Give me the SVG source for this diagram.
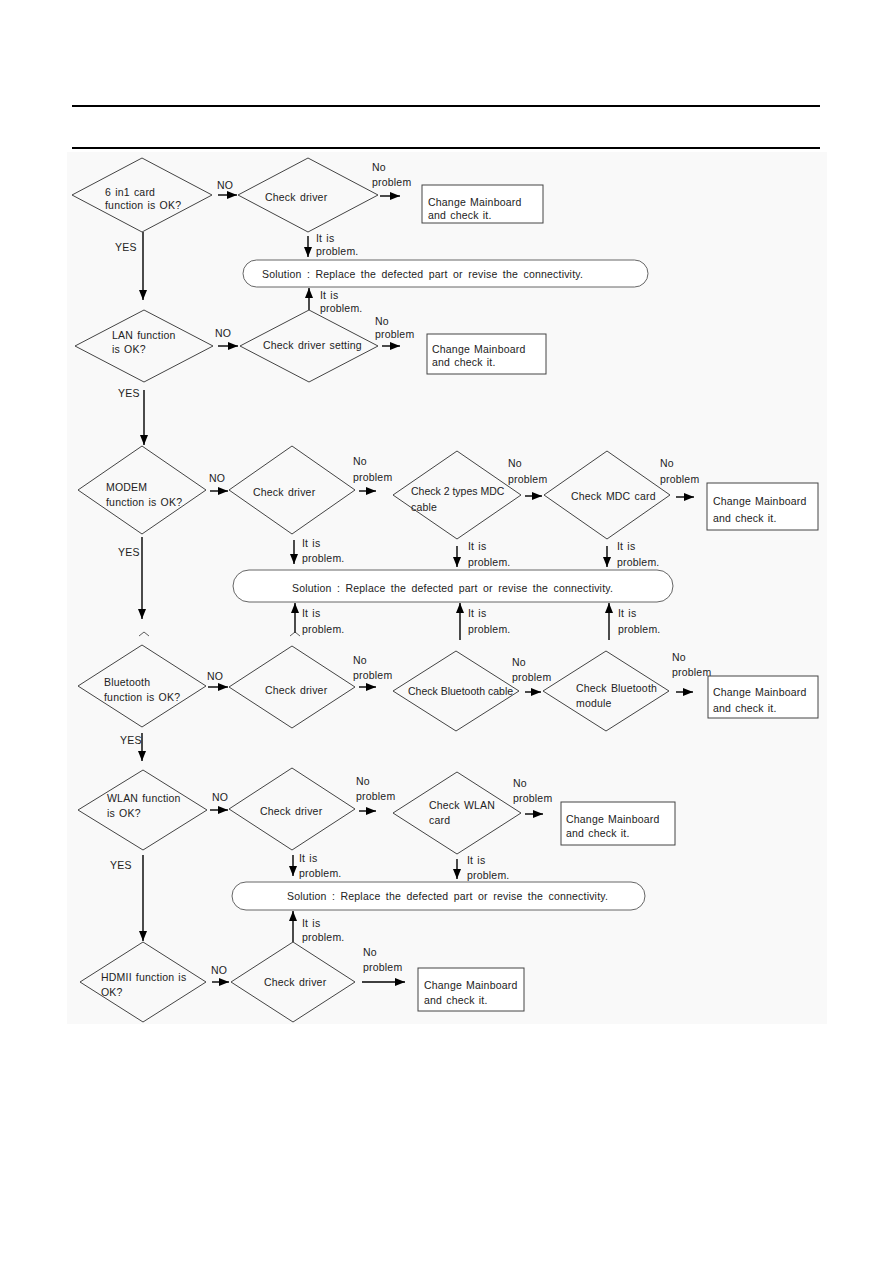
<svg xmlns="http://www.w3.org/2000/svg" width="893" height="1263" viewBox="0 0 893 1263">
<style>
text{font-family:"Liberation Sans",Arial,sans-serif;font-size:10.5px;fill:#222;letter-spacing:0.2px;word-spacing:1px}
.sol{word-spacing:2.3px}
.tight{word-spacing:0;letter-spacing:0}
.d{fill:none;stroke:#444;stroke-width:1}
.b{fill:#fff;stroke:#444;stroke-width:1}
.s{fill:#fff;stroke:#555;stroke-width:0.9}
.c{fill:none;stroke:#000;stroke-width:1.4}
.h{stroke:#000;stroke-width:2}
.k{fill:none;stroke:#333;stroke-width:0.8}
</style>
<defs>
<marker id="ah" markerUnits="userSpaceOnUse" markerWidth="10" markerHeight="8" refX="10" refY="4" orient="auto">
<path d="M0,0 L10,4 L0,8 z" fill="#000"/>
</marker>
</defs>
<rect x="0" y="0" width="893" height="1263" fill="#fff"/>
<rect x="67" y="152" width="760" height="872" fill="#f9f9f9"/>
<g id="header">
<line class="h" x1="72" y1="106" x2="820" y2="106"/>
<line class="h" x1="72" y1="148" x2="820" y2="148"/>
</g>
<g id="connectors">
<line class="c" x1="143" y1="232" x2="143" y2="300" marker-end="url(#ah)"/>
<line class="c" x1="218" y1="195" x2="237" y2="195" marker-end="url(#ah)"/>
<line class="c" x1="380" y1="196" x2="400" y2="196" marker-end="url(#ah)"/>
<line class="c" x1="308" y1="236" x2="308" y2="257" marker-end="url(#ah)"/>
<line class="c" x1="309" y1="310" x2="309" y2="288" marker-end="url(#ah)"/>
<line class="c" x1="218" y1="346" x2="238" y2="346" marker-end="url(#ah)"/>
<line class="c" x1="382" y1="346" x2="400" y2="346" marker-end="url(#ah)"/>
<line class="c" x1="144" y1="390" x2="144" y2="445" marker-end="url(#ah)"/>
<line class="c" x1="210" y1="491" x2="228" y2="491" marker-end="url(#ah)"/>
<line class="c" x1="359" y1="491" x2="376" y2="491" marker-end="url(#ah)"/>
<line class="c" x1="525" y1="496" x2="542" y2="496" marker-end="url(#ah)"/>
<line class="c" x1="676" y1="497" x2="694" y2="497" marker-end="url(#ah)"/>
<line class="c" x1="294" y1="540" x2="294" y2="564" marker-end="url(#ah)"/>
<line class="c" x1="457" y1="546" x2="457" y2="567" marker-end="url(#ah)"/>
<line class="c" x1="607" y1="546" x2="607" y2="567" marker-end="url(#ah)"/>
<line class="c" x1="295" y1="633" x2="295" y2="603" marker-end="url(#ah)"/>
<line class="c" x1="460" y1="640" x2="460" y2="603" marker-end="url(#ah)"/>
<line class="c" x1="609" y1="640" x2="609" y2="603" marker-end="url(#ah)"/>
<line class="c" x1="142" y1="537" x2="142" y2="619" marker-end="url(#ah)"/>
<polyline class="k" points="139,636 144,632 149,636"/>
<polyline class="k" points="290,636 295,632 300,636"/>
<line class="c" x1="208" y1="687" x2="228" y2="687" marker-end="url(#ah)"/>
<line class="c" x1="359" y1="687" x2="376" y2="687" marker-end="url(#ah)"/>
<line class="c" x1="525" y1="692" x2="541" y2="692" marker-end="url(#ah)"/>
<line class="c" x1="676" y1="692" x2="693" y2="692" marker-end="url(#ah)"/>
<line class="c" x1="142" y1="733" x2="142" y2="761" marker-end="url(#ah)"/>
<line class="c" x1="210" y1="810" x2="228" y2="810" marker-end="url(#ah)"/>
<line class="c" x1="359" y1="811" x2="376" y2="811" marker-end="url(#ah)"/>
<line class="c" x1="525" y1="814" x2="543" y2="814" marker-end="url(#ah)"/>
<line class="c" x1="293" y1="855" x2="293" y2="876" marker-end="url(#ah)"/>
<line class="c" x1="457" y1="859" x2="457" y2="879" marker-end="url(#ah)"/>
<line class="c" x1="293" y1="942" x2="293" y2="911" marker-end="url(#ah)"/>
<line class="c" x1="143" y1="855" x2="143" y2="941" marker-end="url(#ah)"/>
<line class="c" x1="212" y1="982" x2="229" y2="982" marker-end="url(#ah)"/>
<line class="c" x1="362" y1="982" x2="405" y2="982" marker-end="url(#ah)"/>
</g>
<g id="connector-labels">
<text x="217" y="189">NO</text>
<text x="115" y="251">YES</text>
<text x="372" y="171">No</text><text x="372" y="186">problem</text>
<text x="316" y="242">It is</text><text x="316" y="255">problem.</text>
<text x="320" y="299">It is</text><text x="320" y="312">problem.</text>
<text x="215" y="337">NO</text>
<text x="375" y="325">No</text><text x="375" y="338">problem</text>
<text x="118" y="397">YES</text>
<text x="209" y="482">NO</text>
<text x="353" y="465">No</text><text x="353" y="481">problem</text>
<text x="508" y="467">No</text><text x="508" y="483">problem</text>
<text x="660" y="467">No</text><text x="660" y="483">problem</text>
<text x="118" y="556">YES</text>
<text x="302" y="547">It is</text><text x="302" y="562">problem.</text>
<text x="468" y="550">It is</text><text x="468" y="566">problem.</text>
<text x="617" y="550">It is</text><text x="617" y="566">problem.</text>
<text x="302" y="617">It is</text><text x="302" y="633">problem.</text>
<text x="468" y="617">It is</text><text x="468" y="633">problem.</text>
<text x="618" y="617">It is</text><text x="618" y="633">problem.</text>
<text x="207" y="680">NO</text>
<text x="353" y="664">No</text><text x="353" y="679">problem</text>
<text x="512" y="666">No</text><text x="512" y="681">problem</text>
<text x="672" y="661">No</text><text x="672" y="676">problem</text>
<text x="120" y="744">YES</text>
<text x="212" y="801">NO</text>
<text x="356" y="785">No</text><text x="356" y="800">problem</text>
<text x="513" y="787">No</text><text x="513" y="802">problem</text>
<text x="299" y="862">It is</text><text x="299" y="877">problem.</text>
<text x="467" y="864">It is</text><text x="467" y="879">problem.</text>
<text x="110" y="869">YES</text>
<text x="302" y="927">It is</text><text x="302" y="941">problem.</text>
<text x="211" y="974">NO</text>
<text x="363" y="956">No</text><text x="363" y="971">problem</text>
</g>
<g id="q-6in1"><polygon class="d" points="72,195 142,158 212,195 142,232"/><text x="105" y="196">6 in1 card</text><text x="105" y="209">function is OK?</text></g>
<g id="check-driver-1"><polygon class="d" points="238,195 308,158 378,195 308,232"/><text x="265" y="201">Check driver</text></g>
<g id="mainboard-1"><rect class="b" x="422" y="185" width="121" height="38"/><text x="428" y="206">Change Mainboard</text><text x="428" y="219">and check it.</text></g>
<g id="solution-1"><rect class="s" x="243" y="260" width="405" height="27" rx="13.5"/><text class="sol" x="262" y="278">Solution : Replace the defected part or revise the connectivity.</text></g>
<g id="q-lan"><polygon class="d" points="75,346 144,310 213,346 144,382"/><text x="112" y="339">LAN function</text><text x="112" y="353">is OK?</text></g>
<g id="check-driver-setting"><polygon class="d" points="240,346 309,310 378,346 309,382"/><text x="263" y="349">Check driver setting</text></g>
<g id="mainboard-2"><rect class="b" x="427" y="334" width="119" height="40"/><text x="432" y="353">Change Mainboard</text><text x="432" y="366">and check it.</text></g>
<g id="q-modem"><polygon class="d" points="78,490 142,446 206,490 142,534"/><text x="106" y="491">MODEM</text><text x="106" y="506">function is OK?</text></g>
<g id="check-driver-3"><polygon class="d" points="229,490 292,446 355,490 292,534"/><text x="253" y="496">Check driver</text></g>
<g id="check-mdc-cable"><polygon class="d" points="393,495 457,451 521,495 457,539"/><text class="tight" x="411" y="495">Check 2 types MDC</text><text x="411" y="511">cable</text></g>
<g id="check-mdc-card"><polygon class="d" points="544,495 607,451 670,495 607,539"/><text x="571" y="500">Check MDC card</text></g>
<g id="mainboard-3"><rect class="b" x="707" y="483" width="111" height="47"/><text x="713" y="505">Change Mainboard</text><text x="713" y="522">and check it.</text></g>
<g id="solution-2"><rect class="s" x="233" y="570" width="440" height="32" rx="16"/><text class="sol" x="292" y="592">Solution : Replace the defected part or revise the connectivity.</text></g>
<g id="q-bluetooth"><polygon class="d" points="78,686 142,645 206,686 142,727"/><text x="104" y="686">Bluetooth</text><text x="104" y="701">function is OK?</text></g>
<g id="check-driver-4"><polygon class="d" points="229,687 292,646 355,687 292,728"/><text x="265" y="694">Check driver</text></g>
<g id="check-bt-cable"><polygon class="d" points="393,691 456,651 519,691 456,731"/><text class="tight" x="408" y="695">Check Bluetooth cable</text></g>
<g id="check-bt-module"><polygon class="d" points="543,691 606,651 669,691 606,731"/><text x="576" y="692">Check Bluetooth</text><text x="576" y="707">module</text></g>
<g id="mainboard-4"><rect class="b" x="708" y="676" width="110" height="42"/><text x="713" y="696">Change Mainboard</text><text x="713" y="712">and check it.</text></g>
<g id="q-wlan"><polygon class="d" points="78,810 143,770 207,810 143,850"/><text x="107" y="802">WLAN function</text><text x="107" y="817">is OK?</text></g>
<g id="check-driver-5"><polygon class="d" points="229,809 292,768 355,809 292,850"/><text x="260" y="815">Check driver</text></g>
<g id="check-wlan-card"><polygon class="d" points="393,813 457,772 521,813 457,854"/><text x="429" y="809">Check WLAN</text><text x="429" y="824">card</text></g>
<g id="mainboard-5"><rect class="b" x="561" y="802" width="114" height="43"/><text x="566" y="823">Change Mainboard</text><text x="566" y="837">and check it.</text></g>
<g id="solution-3"><rect class="s" x="232" y="882" width="413" height="28" rx="14"/><text class="sol" x="287" y="900">Solution : Replace the defected part or revise the connectivity.</text></g>
<g id="q-hdmi"><polygon class="d" points="80,982 143,942 206,982 143,1022"/><text x="101" y="981">HDMII function is</text><text x="101" y="996">OK?</text></g>
<g id="check-driver-6"><polygon class="d" points="231,982 293,942 355,982 293,1022"/><text x="264" y="986">Check driver</text></g>
<g id="mainboard-6"><rect class="b" x="418" y="968" width="106" height="43"/><text x="424" y="989">Change Mainboard</text><text x="424" y="1004">and check it.</text></g>
</svg>
